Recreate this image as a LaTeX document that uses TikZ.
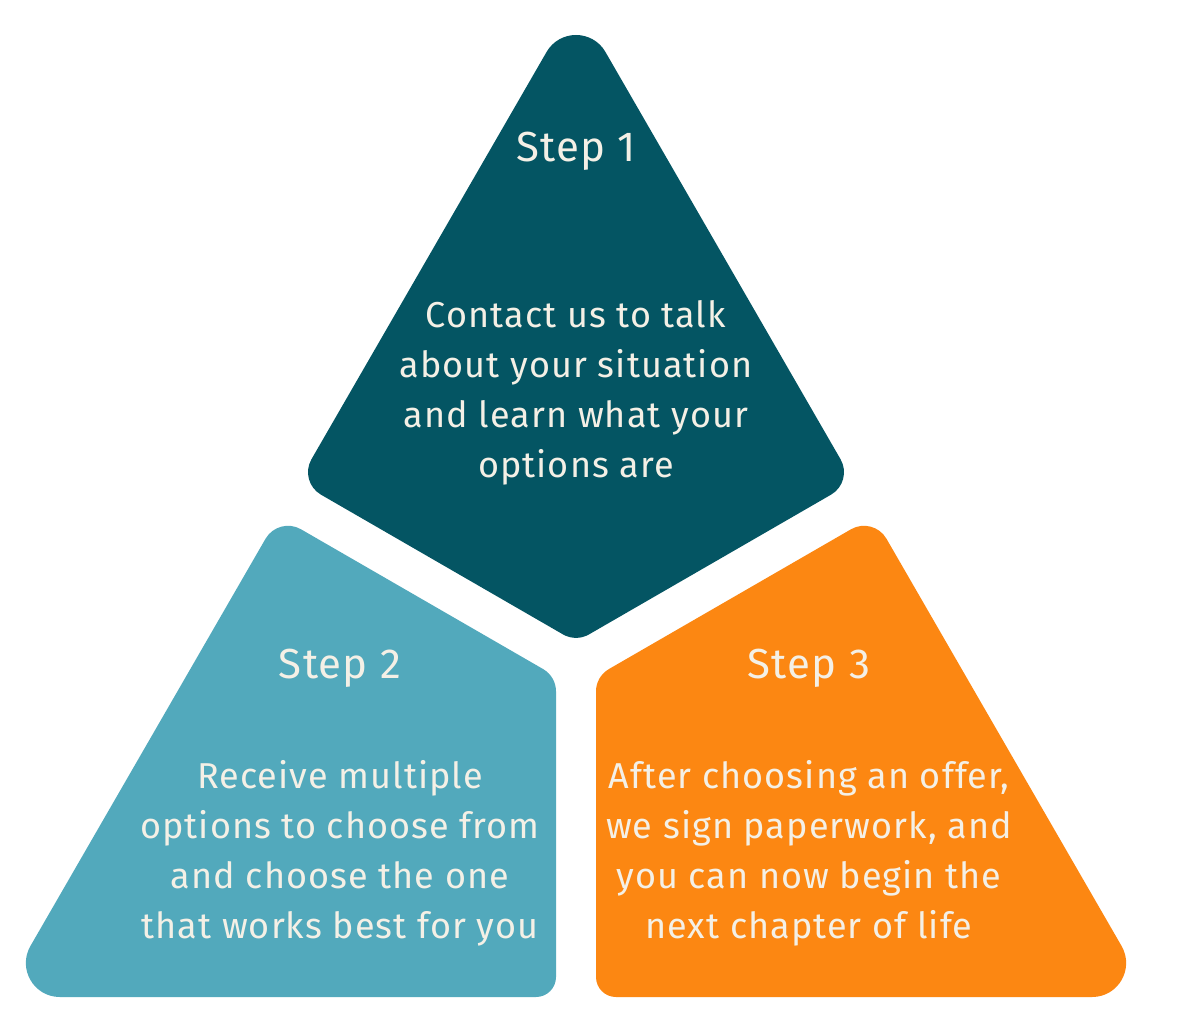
\documentclass[tikz,border=0pt]{standalone}
\usepackage{fontspec}
\setmainfont{Fira Sans}[LetterSpace=3]
\usetikzlibrary{calc}
\definecolor{darkteal}{HTML}{045563}
\definecolor{lightteal}{HTML}{52A9BC}
\definecolor{orangec}{HTML}{FC8712}
\definecolor{txt}{HTML}{F4F0E6}
\tikzset{
  corner/.style n args={5}{insert path={-- ($(#1)!#4!(#2)$) .. controls ($(#1)!#5!(#2)$) and ($(#1)!#5!(#3)$) .. ($(#1)!#4!(#3)$)}},
  stepfont/.style={text=txt, font=\fontsize{42}{50}\selectfont, inner sep=0pt, anchor=base},
  bodyfont/.style={text=txt, font=\fontsize{36}{50}\selectfont, inner sep=0pt, anchor=base},
}
\begin{document}
\begin{tikzpicture}[x=1pt,y=-1pt]
\fill[white] (0,0) rectangle (1180,1030);
\useasboundingbox (0,0) rectangle (1180,1030);
% sharp vertices
\coordinate (A) at (576,1);
\coordinate (Lt) at (298.5,481.7);
\coordinate (Bt) at (576,641.9);
\coordinate (Rt) at (853.5,481.7);
\coordinate (B) at (1,997);
\coordinate (L1) at (278.5,516.3);
\coordinate (L2) at (556,676.5);
\coordinate (L3) at (556,997);
\coordinate (C) at (1151,997);
\coordinate (R1) at (873.5,516.3);
\coordinate (R2) at (596,676.5);
\coordinate (R3) at (596,997);
% top piece
\fill[darkteal] ($(A)!0.5!(Lt)$)
  [corner={Lt}{A}{Bt}{26pt}{11.6pt}]
  [corner={Bt}{Lt}{Rt}{15pt}{5.7pt}]
  [corner={Rt}{Bt}{A}{26pt}{11.6pt}]
  [corner={A}{Rt}{Lt}{58.9pt}{32.7pt}]
  -- cycle;
% left piece
\fill[lightteal] ($(B)!0.5!(L1)$)
  [corner={L1}{B}{L2}{26pt}{11.6pt}]
  [corner={L2}{L1}{L3}{15pt}{5.7pt}]
  [corner={L3}{L2}{B}{20pt}{8.95pt}]
  [corner={B}{L3}{L1}{58.9pt}{32.7pt}]
  -- cycle;
% right piece
\fill[orangec] ($(C)!0.5!(R1)$)
  [corner={R1}{C}{R2}{26pt}{11.6pt}]
  [corner={R2}{R1}{R3}{15pt}{5.7pt}]
  [corner={R3}{R2}{C}{20pt}{8.95pt}]
  [corner={C}{R3}{R1}{58.9pt}{32.7pt}]
  -- cycle;
% texts
\node[stepfont] (s1) at (576,161) {Step 1};
\node[stepfont] (s2) at (340,678) {Step 2};
\node[stepfont] (s3) at (809,678) {Step 3};
\node[bodyfont] (a1) at (576,327) {Contact us to talk};
\node[bodyfont] (a2) at (576,377) {about your situation};
\node[bodyfont] (a3) at (576,427) {and learn what your};
\node[bodyfont] (a4) at (576,477) {options are};
\node[bodyfont] (b1) at (340,788) {Receive multiple};
\node[bodyfont] (b2) at (340,838) {options to choose from};
\node[bodyfont] (b3) at (340,888) {and choose the one};
\node[bodyfont] (b4) at (340,938) {that works best for you};
\node[bodyfont] (c1) at (809,788) {After choosing an offer,};
\node[bodyfont] (c2) at (809,838) {we sign paperwork, and};
\node[bodyfont] (c3) at (809,888) {you can now begin the};
\node[bodyfont] (c4) at (809,938) {next chapter of life};
\end{tikzpicture}
\end{document}
